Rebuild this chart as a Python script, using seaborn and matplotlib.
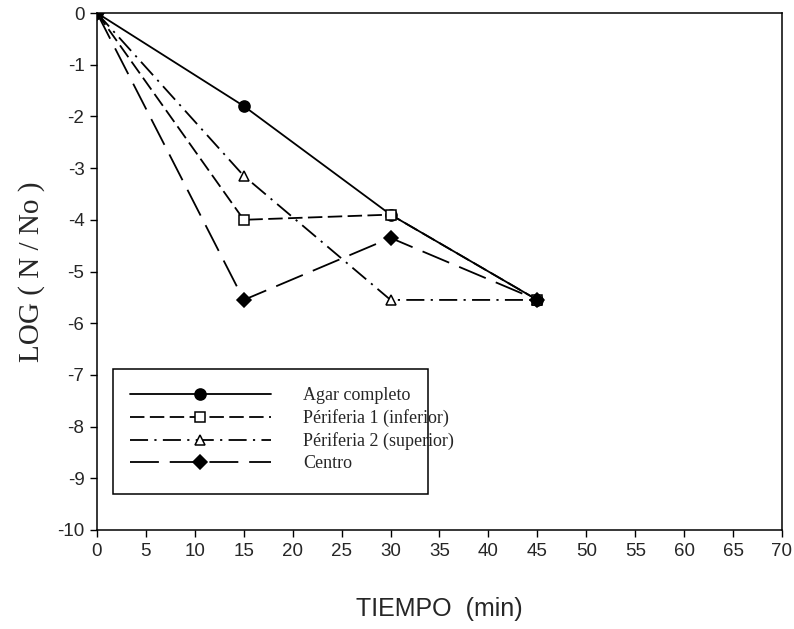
import matplotlib
matplotlib.use("Agg")
import matplotlib.pyplot as plt
from matplotlib.patches import Rectangle
import seaborn as sns
import pandas as pd

tiempo = [0, 15, 30, 45]
agar_completo = [0, -1.8, -3.9, -5.55]
periferia1 = [0, -4.0, -3.9, -5.55]
periferia2 = [0, -3.15, -5.55, -5.55]
centro = [0, -5.55, -4.35, -5.55]
series_names = ["Agar completo", "Périferia 1 (inferior)", "Périferia 2 (superior)", "Centro"]
x_ticks = list(range(0, 75, 5))
y_ticks = list(range(-10, 1))

sns.set_theme(style="white")
plt.rcParams['font.family'] = ['Liberation Sans', 'DejaVu Sans']

W, H = 794, 629
fig = plt.figure(figsize=(W / 100, H / 100), dpi=100)
ax = fig.add_axes([97 / W, 1 - 530 / H, 685 / W, 517 / H])

styles = [
    dict(marker='o', mfc='black', ms=8, dashes=None),
    dict(marker='s', mfc='white', ms=7.5, dashes=(8, 3)),
    dict(marker='^', mfc='white', ms=7, dashes=(10, 3.5, 1.2, 3.5)),
    dict(marker='D', mfc='black', ms=7, dashes=(16, 6)),
]
data = [agar_completo, periferia1, periferia2, centro]
for name, vals, st in zip(series_names, data, styles):
    df = pd.DataFrame({"t": tiempo, "v": vals})
    kw = dict(color='black', lw=1.3, marker=st['marker'], markersize=st['ms'],
              markerfacecolor=st['mfc'], markeredgecolor='black', markeredgewidth=1.1, label=name)
    if st['dashes'] is not None:
        kw['dashes'] = st['dashes']
    sns.lineplot(data=df, x="t", y="v", ax=ax, **kw)

ax.set_xlim(0, 70)
ax.set_ylim(-10, 0)
ax.set_xticks(x_ticks)
ax.set_yticks(y_ticks)
ax.set_xticklabels([str(v) for v in x_ticks], fontsize=13.5)
ax.set_yticklabels([str(v) for v in y_ticks], fontsize=13.5)
ax.tick_params(axis='both', direction='out', length=5, width=1, color='black',
               bottom=True, left=True, pad=4)
for s in ax.spines.values():
    s.set_color('black')
    s.set_linewidth(1.1)
ax.set_xlabel("TIEMPO  (min)", fontsize=18, labelpad=27)
ax.set_ylabel("LOG ( N / No )", fontsize=21, family=['Liberation Serif'], labelpad=9)

# legend frame
fig.add_artist(Rectangle((113 / W, 1 - 494 / H), (428 - 113) / W, (494 - 369) / H,
                         transform=fig.transFigure, fill=False, edgecolor='black', lw=1.1))
leg = ax.legend(loc='upper left', bbox_to_anchor=(130 / W, 1 - 387 / H),
                bbox_transform=fig.transFigure,
                prop={'family': 'Liberation Serif', 'size': 13}, frameon=False,
                handlelength=7.8, borderpad=0, borderaxespad=0, labelspacing=0.28,
                handletextpad=1.8)

fig.savefig("out.png", dpi=100, facecolor='white')
